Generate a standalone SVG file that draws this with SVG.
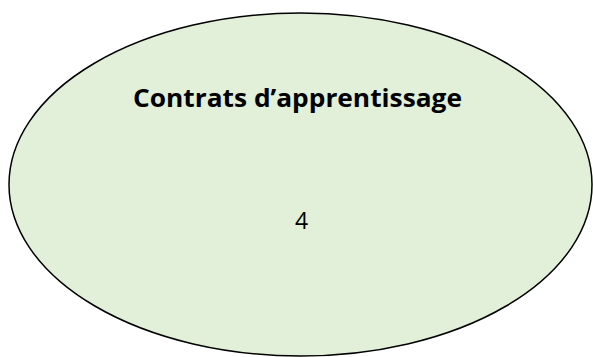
<svg xmlns="http://www.w3.org/2000/svg" width="593" height="357" viewBox="0 0 593 357">
<style>
.shape{fill:#E2EFD9;stroke:#000;stroke-width:1.5}
.title{font-family:"Open Sans","Liberation Sans",sans-serif;font-weight:bold;font-size:25px;fill:#000}
.val{font-family:"Open Sans","Liberation Sans",sans-serif;font-size:23px;fill:#000}
</style>
<rect width="593" height="357" fill="#fff"/>
<g id="node-contrats">
<ellipse class="shape" cx="300.5" cy="184.5" rx="291.5" ry="171.5"/>
<text class="title" x="297.5" y="107" text-anchor="middle" textLength="329" lengthAdjust="spacingAndGlyphs">Contrats d’apprentissage</text>
<text class="val" x="301.5" y="229" text-anchor="middle">4</text>
</g>
<g id="connectors"></g>
</svg>
